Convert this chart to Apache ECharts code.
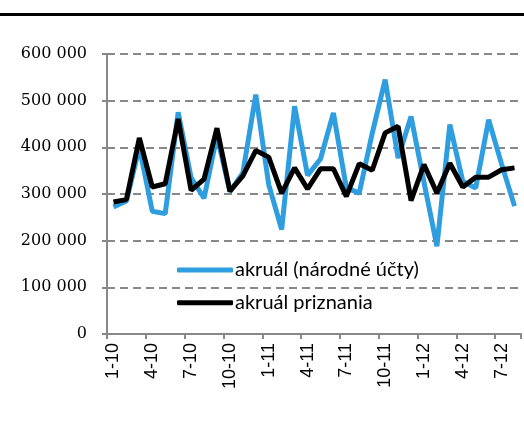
<!DOCTYPE html>
<html><head><meta charset="utf-8">
<script src="https://cdn.jsdelivr.net/npm/echarts@6/dist/echarts.min.js"></script>
<style>html,body{margin:0;padding:0;background:#fff}#c{width:524px;height:425px}</style>
</head><body><div id="c"></div>
<script>
var categories = ['1-10','2-10','3-10','4-10','5-10','6-10','7-10','8-10','9-10','10-10','11-10','12-10',
  '1-11','2-11','3-11','4-11','5-11','6-11','7-11','8-11','9-11','10-11','11-11','12-11',
  '1-12','2-12','3-12','4-12','5-12','6-12','7-12','8-12'];
var narodneUcty = [272000,285000,400000,263000,258000,475000,335000,291000,425000,305000,345000,513000,
  320000,224000,488000,340000,375000,474000,313000,302000,430000,545000,377000,466000,
  325000,188000,449000,327000,313000,459000,364000,274000];
var priznania = [283000,288000,420000,315000,322000,461000,308000,332000,441000,306000,339000,393000,
  379000,302000,356000,311000,354000,354000,295000,365000,351000,431000,445000,286000,
  363000,302000,366000,315000,336000,336000,352000,356000];
var seriesNames = ['akruál (národné účty)','akruál priznania'];

var chart = echarts.init(document.getElementById('c'));
chart.setOption({
  animation:false,
  graphic:[{type:'line',shape:{x1:0,y1:14.5,x2:524,y2:14.5},style:{stroke:'#000',lineWidth:3}}],
  grid:{left:107,right:3,top:54,bottom:91,containLabel:false},
  legend:{orient:'vertical',left:177,top:260,itemWidth:56,itemHeight:5,itemGap:12.7,
    icon:'roundRect',padding:0,
    textStyle:{fontFamily:'Lato',fontSize:20,lineHeight:20,color:'#000',padding:[0,0,0,-3]},
    data:seriesNames},
  xAxis:{type:'category',data:categories,boundaryGap:true,
    axisLine:{lineStyle:{color:'#888',width:2}},
    axisTick:{show:true,interval:2,length:5,lineStyle:{color:'#888',width:2}},
    axisLabel:{interval:2,rotate:90,margin:9,fontFamily:'Liberation Sans',fontSize:18,color:'#000'}},
  yAxis:{type:'value',min:0,max:600000,interval:100000,
    axisLine:{show:true,lineStyle:{color:'#888',width:2}},
    axisTick:{show:true,length:5,lineStyle:{color:'#888',width:2}},
    splitLine:{lineStyle:{color:'#888',width:2,type:[8,5]}},
    axisLabel:{margin:20,fontFamily:'DejaVu Serif',fontSize:16,color:'#000',
      formatter:function(v){return String(v).replace(/\B(?=(\d{3})+(?!\d))/g,' ');}}},
  series:[
    {name:seriesNames[0],type:'line',data:narodneUcty,showSymbol:false,symbol:'none',
      lineStyle:{color:'#2f9ee0',width:5},itemStyle:{color:'#2f9ee0'}},
    {name:seriesNames[1],type:'line',data:priznania,showSymbol:false,symbol:'none',
      lineStyle:{color:'#000',width:5},itemStyle:{color:'#000'}}
  ]
});
</script></body></html>
